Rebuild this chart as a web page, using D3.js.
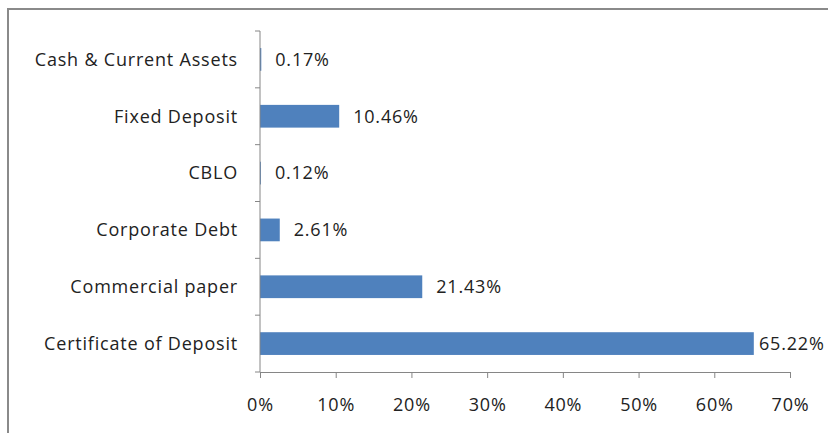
<!DOCTYPE html>
<html lang="en">
  <head>
    <meta charset="utf-8">
    <title></title>
    <script src="https://cdn.jsdelivr.net/npm/d3@7"></script>
    <style>
      body { margin: 0; background: #fff; }
      text { font-family: "Open Sans", sans-serif; fill: #222; letter-spacing: 0.8px; }
    </style>
  </head>
  <body>
    <svg id="chart" width="828" height="433"></svg>
  <script>
  var categories = ["Cash & Current Assets", "Fixed Deposit", "CBLO", "Corporate Debt", "Commercial paper", "Certificate of Deposit"]
  var values = [0.17, 10.46, 0.12, 2.61, 21.43, 65.22]
  var ticks = [0, 10, 20, 30, 40, 50, 60, 70]

  var data = categories.map((c, i) => ({name: c, value: values[i]}))

  var svg = d3.select("#chart"),
      margin = {top: 31, left: 260, bottom: 61, right: 38},
      width = +svg.attr("width"),
      height = +svg.attr("height");

  // outer frame (runs off the right and bottom edges)
  svg.append("rect")
      .attr("x", 8).attr("y", 9)
      .attr("width", 840).attr("height", 450)
      .attr("fill", "none")
      .attr("stroke", "#8a8a8a")
      .attr("stroke-width", 2)

  var x = d3.scaleLinear()
      .domain([0, 70])
      .range([margin.left, width - margin.right])

  var y = d3.scaleBand()
      .domain(categories)
      .range([margin.top, height - margin.bottom])
      .paddingInner(0.6)
      .paddingOuter(0.3)

  // bars
  svg.selectAll(".bar")
    .data(data)
    .enter().append("rect")
      .attr("class", "bar")
      .attr("x", x(0))
      .attr("y", d => y(d.name))
      .attr("width", d => x(d.value) - x(0))
      .attr("height", y.bandwidth())
      .attr("fill", "#4f81bd")

  // value labels
  svg.selectAll(".lbl")
    .data(data)
    .enter().append("text")
      .attr("class", "lbl")
      .attr("x", d => Math.min(x(d.value) + 14, width - 69))
      .attr("y", d => y(d.name) + y.bandwidth() / 2)
      .attr("dy", "0.35em")
      .style("font-size", "18px")
      .text(d => d.value.toFixed(2) + "%")

  // y axis
  var step = y.step()
  var bounds = d3.range(categories.length + 1).map(i => margin.top + i * step)
  svg.append("line")
      .attr("x1", x(0)).attr("x2", x(0))
      .attr("y1", margin.top).attr("y2", height - margin.bottom)
      .attr("stroke", "#868686")
  svg.selectAll(".ytick")
    .data(bounds)
    .enter().append("line")
      .attr("x1", x(0) - 5).attr("x2", x(0))
      .attr("y1", d => d).attr("y2", d => d)
      .attr("stroke", "#868686")
  svg.selectAll(".cat")
    .data(categories)
    .enter().append("text")
      .attr("x", x(0) - 22)
      .attr("y", d => y(d) + y.bandwidth() / 2)
      .attr("dy", "0.35em")
      .attr("text-anchor", "end")
      .style("font-size", "18px")
      .text(d => d)

  // x axis
  var xAxis = svg.append("g")
      .attr("transform", `translate(0,${height - margin.bottom})`)
      .call(d3.axisBottom(x).tickValues(ticks).tickSize(6).tickPadding(20).tickFormat(d => d + "%"))
  xAxis.select(".domain").attr("stroke", "#868686")
  xAxis.selectAll(".tick line").attr("stroke", "#868686")
  xAxis.selectAll("text")
      .style("font-family", "'Open Sans', sans-serif")
      .style("font-size", "18px")
      .attr("fill", "#222")
  </script>
  </body>
</html>
